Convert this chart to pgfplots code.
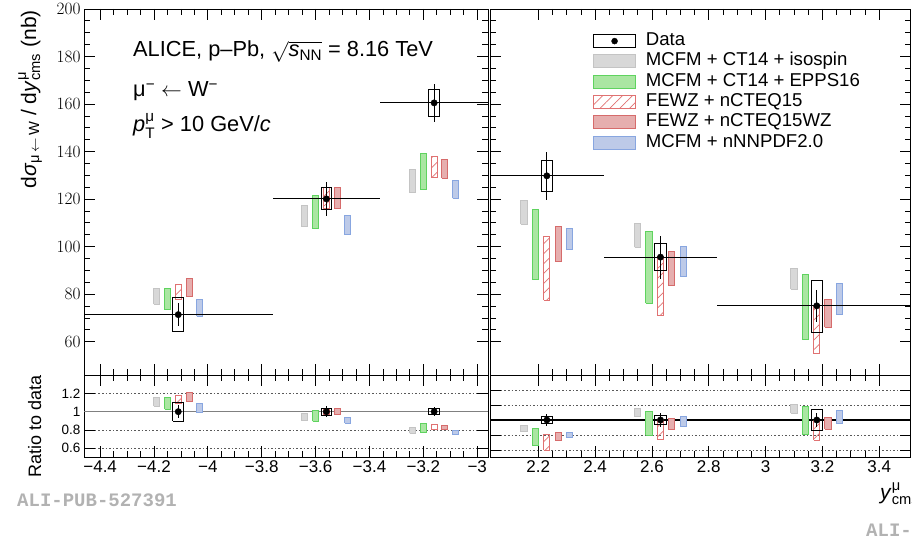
\documentclass[border=0pt]{standalone}
\usepackage{pgfplots}
\pgfplotsset{compat=1.18}
\usepackage{amsmath}
\usepackage{fontspec}
\setmainfont{Liberation Sans}
\setmonofont{Liberation Mono}
\usetikzlibrary{patterns.meta}

\definecolor{gfill}{HTML}{D8D8D8}\definecolor{gline}{HTML}{C4C4C4}
\definecolor{grfill}{HTML}{AAE6A2}\definecolor{grline}{HTML}{5FD35F}
\definecolor{hline}{HTML}{E07272}
\definecolor{rfill}{HTML}{E6AEAE}\definecolor{rline}{HTML}{D66B6B}
\definecolor{bfill}{HTML}{BDCAE8}\definecolor{bline}{HTML}{88A6E0}

\tikzset{
  gbox/.style={fill=gfill,draw=gline,line width=1pt,mark=none},
  grbox/.style={fill=grfill,draw=grline,line width=1pt,mark=none},
  hbox/.style={pattern={Lines[angle=45,distance=7pt,line width=0.7pt]},pattern color=hline,draw=hline,line width=1pt,mark=none},
  rbox/.style={fill=rfill,draw=rline,line width=1pt,mark=none},
  bbox/.style={fill=bfill,draw=bline,line width=1pt,mark=none},
  dbox/.style={draw=black,fill=none,line width=1pt,mark=none},
}

% #1 style, #2 half width, #3 x centre, #4 low, #5 high
\newcommand\bx[5]{%
  \pgfmathsetmacro\xa{#3-#2}%
  \pgfmathsetmacro\xb{#3+#2}%
  \edef\tmp{\noexpand\addplot[#1,forget plot] coordinates {(\xa,#4) (\xb,#4) (\xb,#5) (\xa,#5) (\xa,#4)};}%
  \tmp}

\pgfplotsset{
  rootaxis/.style={
    scale only axis,
    axis line style={line width=0.9pt},
    every tick/.style={black,line width=0.8pt},
    major tick length=11pt, minor tick length=6pt,
    tick align=inside,
    minor x tick num=3,
    tick label style={font=\fontsize{17}{20}\selectfont},
  },
  ratioaxis/.style={
    rootaxis,
    ymajorgrids,
    major grid style={line width=0.8pt,black!65,dash pattern=on 1.6pt off 2pt},
    yticklabel style={font=\fontsize{13.5}{16}\selectfont},
  },
}

\begin{document}
\begin{tikzpicture}[x=1pt,y=1pt]
\useasboundingbox (0,0) rectangle (912,540);

%================ LEFT TOP =================
\begin{axis}[rootaxis, at={(84pt,165pt)}, anchor=south west,
  width=404pt, height=366pt,
  xmin=-4.46, xmax=-2.96, ymin=46, ymax=200,
  xtick={-4.4,-4.2,-4,-3.8,-3.6,-3.4,-3.2,-3}, xticklabels={},
  ytick={60,80,100,120,140,160,180,200}, minor y tick num=3]
\bx{gbox}{0.011}{-4.19}{75.7}{82.4}
\bx{gbox}{0.011}{-3.64}{108.3}{117.5}
\bx{gbox}{0.011}{-3.24}{122.7}{132.5}
\bx{grbox}{0.011}{-4.15}{73.4}{82.4}
\bx{grbox}{0.011}{-3.60}{107.5}{121.6}
\bx{grbox}{0.011}{-3.20}{124.1}{139.2}
\bx{hbox}{0.011}{-4.11}{77.9}{84.1}
\bx{hbox}{0.011}{-3.56}{116.1}{124.9}
\bx{hbox}{0.011}{-3.16}{129.1}{138.0}
\bx{rbox}{0.011}{-4.07}{79.2}{86.6}
\bx{rbox}{0.011}{-3.52}{116.1}{124.9}
\bx{rbox}{0.011}{-3.12}{128.7}{136.7}
\bx{bbox}{0.011}{-4.03}{70.7}{77.8}
\bx{bbox}{0.011}{-3.48}{105.1}{113.0}
\bx{bbox}{0.011}{-3.08}{120.3}{127.7}
\bx{dbox}{0.02}{-4.11}{64.1}{78.6}
\bx{dbox}{0.02}{-3.56}{115.7}{124.9}
\bx{dbox}{0.02}{-3.16}{154.7}{166.2}
\addplot[black, only marks, mark=*, mark size=3.2pt, forget plot,
  error bars/.cd, x dir=both, x explicit, y dir=both, y explicit,
  error mark=none, error bar style={line width=1.2pt}]
  table[x=x, y=y, x error=bw, y error=st] {
x y bw st
-4.11 71.4 0.35 4.9
-3.56 120.1 0.20 7.2
-3.16 160.5 0.20 8.0
};
\end{axis}

%================ RIGHT TOP =================
\begin{axis}[rootaxis, at={(490pt,165pt)}, anchor=south west,
  width=420.5pt, height=366pt,
  xmin=2.03, xmax=3.51, ymin=46, ymax=200,
  xtick={2.2,2.4,2.6,2.8,3,3.2,3.4}, xticklabels={},
  ytick={60,80,100,120,140,160,180,200}, yticklabels={}, minor y tick num=3,
  legend style={draw=none, fill=none, at={(axis description cs:0.245,0.936)}, anchor=north west,
    inner sep=0pt, row sep=3.3pt, column sep=10pt,
    nodes={inner sep=0pt, font=\fontsize{18.6}{20}\selectfont, text height=13pt, text depth=4pt}},
  legend cell align=left]
\addlegendimage{legend image code/.code={\draw[black,line width=1pt] (0pt,-6.5pt) rectangle (41.7pt,6.5pt); \fill[black] (20.85pt,0pt) circle (3pt);}}
\addlegendentry{Data}
\addlegendimage{legend image code/.code={\draw[gbox] (0pt,-6.5pt) rectangle (41.7pt,6.5pt);}}
\addlegendentry{MCFM + CT14 + isospin}
\addlegendimage{legend image code/.code={\draw[grbox] (0pt,-6.5pt) rectangle (41.7pt,6.5pt);}}
\addlegendentry{MCFM + CT14 + EPPS16}
\addlegendimage{legend image code/.code={\draw[hbox] (0pt,-6.5pt) rectangle (41.7pt,6.5pt);}}
\addlegendentry{FEWZ + nCTEQ15}
\addlegendimage{legend image code/.code={\draw[rbox] (0pt,-6.5pt) rectangle (41.7pt,6.5pt);}}
\addlegendentry{FEWZ + nCTEQ15WZ}
\addlegendimage{legend image code/.code={\draw[bbox] (0pt,-6.5pt) rectangle (41.7pt,6.5pt);}}
\addlegendentry{MCFM + nNNPDF2.0}
\bx{gbox}{0.011}{2.15}{109.5}{119.6}
\bx{gbox}{0.011}{2.55}{99.7}{109.8}
\bx{gbox}{0.011}{3.10}{82.1}{90.8}
\bx{grbox}{0.011}{2.19}{86.2}{115.7}
\bx{grbox}{0.011}{2.59}{76.1}{106.2}
\bx{grbox}{0.011}{3.14}{60.9}{88.3}
\bx{hbox}{0.011}{2.23}{77.5}{104.4}
\bx{hbox}{0.011}{2.63}{71.2}{95.7}
\bx{hbox}{0.011}{3.18}{55.0}{74.9}
\bx{rbox}{0.011}{2.27}{93.9}{108.6}
\bx{rbox}{0.011}{2.67}{83.5}{97.8}
\bx{rbox}{0.011}{3.22}{66.0}{77.8}
\bx{bbox}{0.011}{2.31}{98.8}{107.7}
\bx{bbox}{0.011}{2.71}{87.6}{99.9}
\bx{bbox}{0.011}{3.26}{71.5}{84.5}
\bx{dbox}{0.02}{2.23}{123.1}{136.4}
\bx{dbox}{0.02}{2.63}{89.8}{101.3}
\bx{dbox}{0.02}{3.18}{63.9}{85.9}
\addplot[black, only marks, mark=*, mark size=3.2pt, forget plot,
  error bars/.cd, x dir=both, x explicit, y dir=both, y explicit,
  error mark=none, error bar style={line width=1.2pt}]
  table[x=x, y=y, x error=bw, y error=st] {
x y bw st
2.23 129.8 0.20 10.0
2.63 95.6 0.20 9.0
3.18 75.1 0.35 6.7
};
\end{axis}

%================ LEFT RATIO =================
\begin{axis}[ratioaxis, at={(84pt,82.5pt)}, anchor=south west,
  width=404pt, height=82.5pt,
  xmin=-4.46, xmax=-2.96, ymin=0.5, ymax=1.4,
  xtick={-4.4,-4.2,-4,-3.8,-3.6,-3.4,-3.2,-3},
  xticklabels={−4.4,−4.2,−4,−3.8,−3.6,−3.4,−3.2,−3},
  ytick={0.6,0.8,1,1.2}, yticklabels={0.6,0.8,1,1.2}]
\addplot[black!50, line width=1.5pt, forget plot] coordinates {(-4.46,1) (-2.96,1)};
\bx{gbox}{0.011}{-4.19}{1.060}{1.154}
\bx{gbox}{0.011}{-3.64}{0.902}{0.978}
\bx{gbox}{0.011}{-3.24}{0.764}{0.826}
\bx{grbox}{0.011}{-4.15}{1.028}{1.154}
\bx{grbox}{0.011}{-3.60}{0.895}{1.012}
\bx{grbox}{0.011}{-3.20}{0.773}{0.867}
\bx{hbox}{0.011}{-4.11}{1.091}{1.178}
\bx{hbox}{0.011}{-3.56}{0.967}{1.040}
\bx{hbox}{0.011}{-3.16}{0.804}{0.860}
\bx{rbox}{0.011}{-4.07}{1.109}{1.213}
\bx{rbox}{0.011}{-3.52}{0.967}{1.040}
\bx{rbox}{0.011}{-3.12}{0.802}{0.852}
\bx{bbox}{0.011}{-4.03}{0.990}{1.090}
\bx{bbox}{0.011}{-3.48}{0.875}{0.941}
\bx{bbox}{0.011}{-3.08}{0.750}{0.796}
\bx{dbox}{0.02}{-4.11}{0.898}{1.102}
\bx{dbox}{0.02}{-3.56}{0.962}{1.038}
\bx{dbox}{0.02}{-3.16}{0.964}{1.036}
\addplot[black, only marks, mark=*, mark size=3.2pt, forget plot,
  error bars/.cd, y dir=both, y explicit,
  error mark=none, error bar style={line width=1.2pt}]
  table[x=x, y=y, y error=st] {
x y st
-4.11 1 0.069
-3.56 1 0.060
-3.16 1 0.050
};
\end{axis}

%================ RIGHT RATIO =================
\begin{axis}[ratioaxis, at={(490pt,82.5pt)}, anchor=south west,
  width=420.5pt, height=82.5pt,
  xmin=2.03, xmax=3.51, ymin=0.5, ymax=1.6,
  xtick={2.2,2.4,2.6,2.8,3,3.2,3.4},
  xticklabels={2.2,2.4,2.6,2.8,3,3.2,3.4},
  ytick={0.6,0.8,1,1.2,1.4}, yticklabels={}]
\addplot[black, line width=1.5pt, forget plot] coordinates {(2.03,1) (3.51,1)};
\bx{gbox}{0.011}{2.15}{0.844}{0.921}
\bx{gbox}{0.011}{2.55}{1.043}{1.149}
\bx{gbox}{0.011}{3.10}{1.093}{1.209}
\bx{grbox}{0.011}{2.19}{0.664}{0.891}
\bx{grbox}{0.011}{2.59}{0.796}{1.111}
\bx{grbox}{0.011}{3.14}{0.811}{1.176}
\bx{hbox}{0.011}{2.23}{0.597}{0.804}
\bx{hbox}{0.011}{2.63}{0.745}{1.001}
\bx{hbox}{0.011}{3.18}{0.732}{0.997}
\bx{rbox}{0.011}{2.27}{0.723}{0.837}
\bx{rbox}{0.011}{2.67}{0.873}{1.023}
\bx{rbox}{0.011}{3.22}{0.879}{1.036}
\bx{bbox}{0.011}{2.31}{0.761}{0.830}
\bx{bbox}{0.011}{2.71}{0.916}{1.045}
\bx{bbox}{0.011}{3.26}{0.952}{1.125}
\bx{dbox}{0.02}{2.23}{0.949}{1.051}
\bx{dbox}{0.02}{2.63}{0.939}{1.061}
\bx{dbox}{0.02}{3.18}{0.854}{1.146}
\addplot[black, only marks, mark=*, mark size=3.2pt, forget plot,
  error bars/.cd, y dir=both, y explicit,
  error mark=none, error bar style={line width=1.2pt}]
  table[x=x, y=y, y error=st] {
x y st
2.23 1 0.077
2.63 1 0.094
3.18 1 0.089
};
\end{axis}

%================ TEXT =================
\node[anchor=base west, inner sep=0pt, font=\fontsize{21.8}{24}\selectfont] at (133,483)
  {ALICE, p–Pb, $\sqrt{\text{\textit{s}}_{\text{NN}}}$ = 8.16 TeV};
\node[anchor=base west, inner sep=0pt, font=\fontsize{21.8}{24}\selectfont] at (133,443)
  {μ\textsuperscript{−} $\leftarrow$ W\textsuperscript{−}};
\node[anchor=base west, inner sep=0pt, font=\fontsize{21.8}{24}\selectfont] at (133,408)
  {\textit{p}$^{\text{μ}}_{\text{T}}$ > 10 GeV/\textit{c}};
\node[rotate=90, anchor=base east, inner sep=0pt, font=\fontsize{21}{24}\selectfont] at (36,530)
  {d\textit{σ}$_{\text{μ}\,\leftarrow\,\text{W}}$ / d\textit{y}$^{\text{μ}}_{\text{cms}}$ (nb)};
\node[rotate=90, anchor=base east, inner sep=0pt, font=\fontsize{18}{20}\selectfont] at (41,165)
  {Ratio to data};
\node[anchor=base west, inner sep=0pt, font=\fontsize{21}{24}\selectfont] at (880,40)
  {\textit{y}$^{\text{μ}}_{\text{cms}}$};
\node[anchor=base west, inner sep=0pt, text=black!30, font=\fontsize{19}{20}\selectfont\ttfamily\bfseries] at (17,33)
  {ALI-PUB-527391};
\node[anchor=base west, inner sep=0pt, text=black!30, font=\fontsize{19}{20}\selectfont\ttfamily\bfseries] at (866,3.5)
  {ALI-PUB-527391};
\end{tikzpicture}
\end{document}
